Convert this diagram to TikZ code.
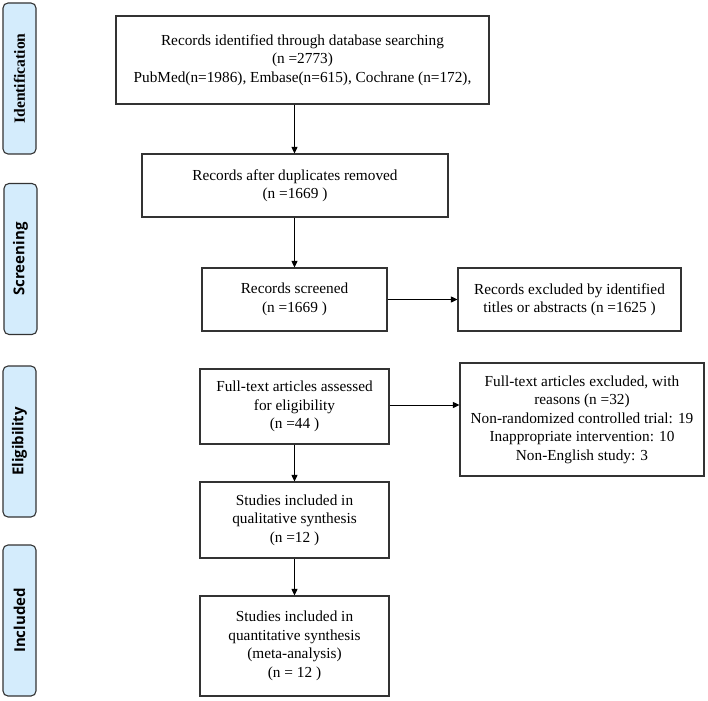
\documentclass[tikz,border=0pt]{standalone}
\usepackage{fontspec}
\setmainfont{Liberation Serif}
\newfontfamily\sidefont{Open Sans}
\usetikzlibrary{arrows.meta}
\definecolor{sidefill}{HTML}{D4ECFC}
\definecolor{edgegray}{HTML}{333333}
\begin{document}
\begin{tikzpicture}[x=1pt,y=-1pt,
  box/.style={draw=edgegray,line width=1.1pt,rectangle,inner sep=0pt,align=center,
    font=\fontsize{15.3}{18.5}\selectfont},
  side/.style={draw=edgegray,line width=1.1pt,fill=sidefill,rounded corners=5pt,
    minimum width=33pt,minimum height=151pt,inner sep=0pt},
  sidetext/.style={rotate=90,font=\sidefont\bfseries\fontsize{15}{17}\selectfont},
  arr/.style={draw=black,line width=0.9pt,-{Triangle[length=6.5pt,width=6pt]}}]
\useasboundingbox (0,0) rectangle (708,700);
% side labels
\node[side] (s1) at (19.5,78.5) {};
\node[sidetext,font=\bfseries\fontsize{15.6}{17}\selectfont] (t1) at (s1.center) {Identification};
\node[side] (s2) at (20.5,259) {};
\node[sidetext] (t2) at (s2.center) {Screening};
\node[side] (s3) at (19.5,441.5) {};
\node[sidetext] (t3) at (s3.center) {Eligibility};
\node[side] (s4) at (19.5,620.5) {};
\node[sidetext] (t4) at (s4.center) {Included};
% boxes
\node[box,minimum width=373pt,minimum height=88pt] (b1) at (302.5,60)
  {Records identified through database searching\\(n =2773)\\PubMed(n=1986), Embase(n=615), Cochrane (n=172),};
\node[box,minimum width=306pt,minimum height=63pt] (b2) at (295,185.5)
  {Records after duplicates removed\\(n =1669 )};
\node[box,minimum width=185pt,minimum height=63pt] (b3) at (294.5,299.5)
  {Records screened\\(n =1669 )};
\node[box,minimum width=223pt,minimum height=63pt] (b4) at (569.5,299.5)
  {Records excluded by identified\\titles or abstracts (n =1625 )};
\node[box,minimum width=189pt,minimum height=75pt] (b5) at (294.5,406.5)
  {Full-text articles assessed\\for eligibility\\(n =44 )};
\node[box,minimum width=244pt,minimum height=113pt] (b6) at (582,419.5)
  {Full-text articles excluded, with\\reasons (n =32)\\Non-randomized controlled trial: 19\\Inappropriate intervention: 10\\Non-English study: 3};
\node[box,minimum width=189pt,minimum height=76pt] (b7) at (294.5,520)
  {Studies included in\\qualitative synthesis\\(n =12 )};
\node[box,minimum width=189pt,minimum height=100pt] (b8) at (294.5,646)
  {Studies included in\\quantitative synthesis\\(meta-analysis)\\(n = 12 )};
% connectors
\draw[arr] (b1.south -| b3.center) -- (b2.north -| b3.center);
\draw[arr] (b2.south -| b3.center) -- (b3.north);
\draw[arr] (b3.east) -- (b4.west);
\draw[arr] (b5.east |- 0,405) -- (b6.west |- 0,405);
\draw[arr] (b5.south) -- (b7.north);
\draw[arr] (b7.south) -- (b8.north);
\end{tikzpicture}
\end{document}
